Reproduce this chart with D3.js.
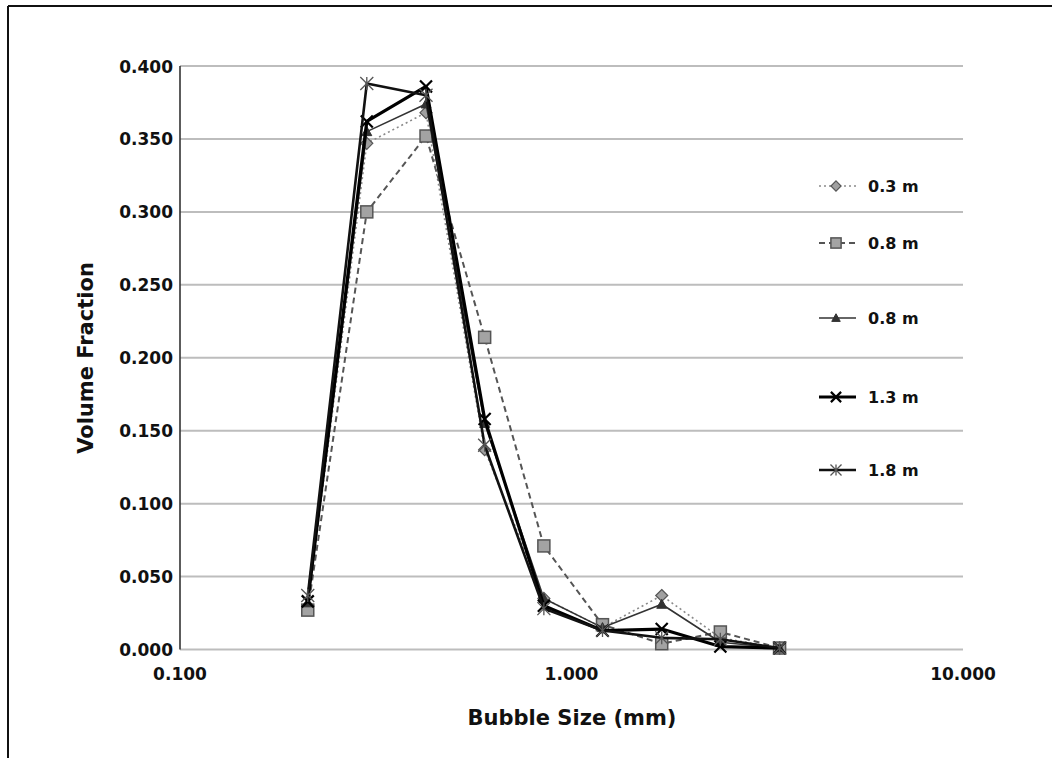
<!DOCTYPE html>
<html><head><meta charset="utf-8">
<script src="https://cdn.jsdelivr.net/npm/d3@7"></script>
<style>body{margin:0;background:#fff}svg{display:block}</style>
</head><body>
<svg id="c" width="1052" height="758"></svg>
<script>
const bubbleSize = [0.212, 0.3, 0.425, 0.6, 0.85, 1.2, 1.7, 2.4, 3.4];
const s03  = [0.030, 0.347, 0.368, 0.137, 0.035, 0.015, 0.037, 0.008, 0.001];
const s08a = [0.027, 0.300, 0.352, 0.214, 0.071, 0.017, 0.004, 0.012, 0.001];
const s08b = [0.032, 0.355, 0.374, 0.155, 0.035, 0.015, 0.031, 0.005, 0.001];
const s13  = [0.033, 0.362, 0.386, 0.158, 0.030, 0.013, 0.014, 0.002, 0.001];
const s18  = [0.037, 0.388, 0.380, 0.140, 0.028, 0.013, 0.008, 0.007, 0.001];
const seriesNames = ["0.3 m", "0.8 m", "0.8 m", "1.3 m", "1.8 m"];
const xTicks = [0.1, 1, 10];
const yTicks = [0, 0.05, 0.1, 0.15, 0.2, 0.25, 0.3, 0.35, 0.4];

const svg = d3.select("#c");
const x = d3.scaleLog().domain([0.1, 10]).range([180, 963]);
const y = d3.scaleLinear().domain([0, 0.4]).range([649.5, 66]);
const font = "'DejaVu Sans', Verdana, sans-serif";

// frame
svg.append("line").attr("x1", 8).attr("x2", 1052).attr("y1", 6).attr("y2", 6).attr("stroke", "#111").attr("stroke-width", 2);
svg.append("line").attr("x1", 8).attr("x2", 8).attr("y1", 6).attr("y2", 758).attr("stroke", "#111").attr("stroke-width", 2);

// gridlines
svg.append("g").selectAll("line").data(yTicks).join("line")
  .attr("x1", x(0.1)).attr("x2", x(10))
  .attr("y1", d => y(d)).attr("y2", d => y(d))
  .attr("stroke", "#bdbdbd").attr("stroke-width", 2);
// y axis line
svg.append("line").attr("x1", x(0.1)).attr("x2", x(0.1)).attr("y1", y(0.4)).attr("y2", y(0))
  .attr("stroke", "#333").attr("stroke-width", 1.6);

// y tick labels
svg.append("g").selectAll("text").data(yTicks).join("text")
  .attr("x", 173).attr("y", d => y(d) + 6.5)
  .attr("text-anchor", "end").attr("font-family", font).attr("font-size", 17).attr("font-weight", "bold")
  .attr("fill", "#111").text(d => d3.format(".3f")(d));
// x tick labels
svg.append("g").selectAll("text").data(xTicks).join("text")
  .attr("x", d => x(d)).attr("y", 680)
  .attr("text-anchor", "middle").attr("font-family", font).attr("font-size", 17).attr("font-weight", "bold")
  .attr("fill", "#111").text(d => d3.format(".3f")(d));

// axis titles
svg.append("text").attr("x", 572).attr("y", 725).attr("text-anchor", "middle")
  .attr("font-family", font).attr("font-size", 21).attr("font-weight", "bold").attr("fill", "#111")
  .text("Bubble Size  (mm)");
svg.append("text").attr("transform", "translate(93,358) rotate(-90)").attr("text-anchor", "middle")
  .attr("font-family", font).attr("font-size", 21).attr("font-weight", "bold").attr("fill", "#111")
  .text("Volume Fraction");

const styles = [
  {data: s03, stroke: "#8a8a8a", width: 1.6, dash: "2,3", marker: "diamond", mfill: "#a0a0a0", mstroke: "#555"},
  {data: s08a, stroke: "#555", width: 2, dash: "6,4", marker: "square", mfill: "#a3a3a3", mstroke: "#555"},
  {data: s08b, stroke: "#333", width: 1.6, dash: null, marker: "triangle", mfill: "#333", mstroke: "#333"},
  {data: s13, stroke: "#000", width: 3.2, dash: null, marker: "x", mfill: "none", mstroke: "#000"},
  {data: s18, stroke: "#111", width: 2.6, dash: null, marker: "star", mfill: "none", mstroke: "#555"}
];

function drawMarker(g, type, cx, cy, st, scale) {
  const k = scale || 1;
  if (type === "diamond") {
    const r = 6 * k;
    g.append("path").attr("d", `M${cx},${cy - r}L${cx + r},${cy}L${cx},${cy + r}L${cx - r},${cy}Z`)
      .attr("fill", st.mfill).attr("stroke", st.mstroke).attr("stroke-width", 1.2);
  } else if (type === "square") {
    const r = 6 * k;
    g.append("rect").attr("x", cx - r).attr("y", cy - r).attr("width", 2 * r).attr("height", 2 * r)
      .attr("fill", st.mfill).attr("stroke", st.mstroke).attr("stroke-width", 1.5);
  } else if (type === "triangle") {
    const r = 5 * k;
    g.append("path").attr("d", `M${cx},${cy - r}L${cx + r},${cy + r * 0.8}L${cx - r},${cy + r * 0.8}Z`)
      .attr("fill", st.mfill).attr("stroke", st.mstroke).attr("stroke-width", 1);
  } else if (type === "x") {
    const r = 6 * k;
    g.append("path").attr("d", `M${cx - r},${cy - r}L${cx + r},${cy + r}M${cx - r},${cy + r}L${cx + r},${cy - r}`)
      .attr("stroke", st.mstroke).attr("stroke-width", 2.2).attr("fill", "none");
  } else if (type === "star") {
    const r = 6.5 * k;
    g.append("path").attr("d", `M${cx - r},${cy - r}L${cx + r},${cy + r}M${cx - r},${cy + r}L${cx + r},${cy - r}M${cx},${cy - r}L${cx},${cy + r}`)
      .attr("stroke", st.mstroke).attr("stroke-width", 1.3).attr("fill", "none");
  }
}

const line = d3.line().x(d => x(d[0])).y(d => y(d[1]));
styles.forEach(st => {
  const g = svg.append("g");
  const pts = bubbleSize.map((b, i) => [b, st.data[i]]);
  g.append("path").attr("d", line(pts)).attr("fill", "none").attr("stroke", st.stroke)
    .attr("stroke-width", st.width).attr("stroke-dasharray", st.dash).attr("stroke-linejoin", "round");
  pts.forEach(p => drawMarker(g, st.marker, x(p[0]), y(p[1]), st));
});

// legend
const legendY = [186, 243, 318, 397, 470];
styles.forEach((st, i) => {
  const g = svg.append("g");
  const ly = legendY[i];
  g.append("line").attr("x1", 819).attr("x2", 856).attr("y1", ly).attr("y2", ly)
    .attr("stroke", st.stroke).attr("stroke-width", st.width).attr("stroke-dasharray", st.dash);
  drawMarker(g, st.marker, 836, ly, st, 0.85);
  g.append("text").attr("x", 868).attr("y", ly + 6).attr("font-family", font).attr("font-size", 16)
    .attr("font-weight", "bold").attr("fill", "#111").text(seriesNames[i]);
});
</script>
</body></html>
